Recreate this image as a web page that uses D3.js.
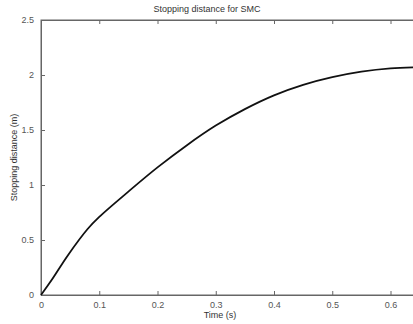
<!DOCTYPE html>
<html><head><meta charset="utf-8">
<script src="https://cdn.jsdelivr.net/npm/d3@7"></script>
<style>body{margin:0;background:#fff;overflow:hidden}svg{display:block}</style>
</head><body>
<script>
const timeS = [0, 0.02, 0.046, 0.08, 0.1, 0.15, 0.2, 0.25, 0.3, 0.35, 0.4, 0.45, 0.5, 0.55, 0.6, 0.65];
const distM = [0, 0.15, 0.36, 0.60, 0.71, 0.94, 1.16, 1.36, 1.54, 1.69, 1.815, 1.91, 1.98, 2.03, 2.06, 2.07];
const xTicks = [0, 0.1, 0.2, 0.3, 0.4, 0.5, 0.6, 0.7];
const xTickLabels = [0, 0.1, 0.2, 0.3, 0.4, 0.5, 0.6];
const yTicks = [0, 0.5, 1, 1.5, 2, 2.5];
const title = "Stopping distance for SMC";
const xLabel = "Time (s)";
const yLabel = "Stopping distance (m)";

const W = 413, H = 324;
const L = 41, T = 20, B = 295;
const svg = d3.select("body").append("svg").attr("width", W).attr("height", H)
  .style("font-family", "'Liberation Sans', Arial, sans-serif");
const x = d3.scaleLinear().domain([0, 0.7]).range([L, L + 0.7 * 582.5]);
const y = d3.scaleLinear().domain([0, 2.5]).range([B, T]);
const R = x(0.7);
const axCol = "#666", txtCol = "#555";

svg.append("rect").attr("x", L).attr("y", T).attr("width", R - L).attr("height", B - T)
  .attr("fill", "none").attr("stroke", axCol).attr("stroke-width", 1);

const bx = svg.append("g").attr("transform", `translate(0,${B})`)
  .call(d3.axisBottom(x).tickValues(xTicks).tickSize(-4).tickPadding(7)
    .tickFormat(d => xTickLabels.includes(d) ? d3.format("")(d) : ""));
const tx = svg.append("g").attr("transform", `translate(0,${T})`)
  .call(d3.axisTop(x).tickValues(xTicks).tickSize(-4).tickFormat(""));
const ly = svg.append("g").attr("transform", `translate(${L},0)`)
  .call(d3.axisLeft(y).tickValues(yTicks).tickSize(-4).tickPadding(7).tickFormat(d3.format("")));
[bx, tx, ly].forEach(g => {
  g.select(".domain").attr("stroke", axCol);
  g.selectAll(".tick line").attr("stroke", axCol);
  g.selectAll("text").attr("fill", txtCol).style("font-size", "9px").style("font-family", "'Liberation Sans', Arial, sans-serif");
});

svg.append("path").datum(timeS.map((t, i) => [t, distM[i]]))
  .attr("fill", "none").attr("stroke", "#111").attr("stroke-width", 1.8)
  .attr("d", d3.line().x(d => x(d[0])).y(d => y(d[1])).curve(d3.curveCatmullRom.alpha(0.5)));

svg.append("text").attr("x", 207).attr("y", 12).attr("text-anchor", "middle")
  .attr("fill", "#333").style("font-size", "9px").text(title);
svg.append("text").attr("x", 220).attr("y", 318).attr("text-anchor", "middle")
  .attr("fill", "#333").style("font-size", "9px").text(xLabel);
svg.append("text").attr("transform", `translate(17,${(T + B) / 2}) rotate(-90)`).attr("text-anchor", "middle")
  .attr("fill", "#333").style("font-size", "9px").text(yLabel);
</script>
</body></html>
